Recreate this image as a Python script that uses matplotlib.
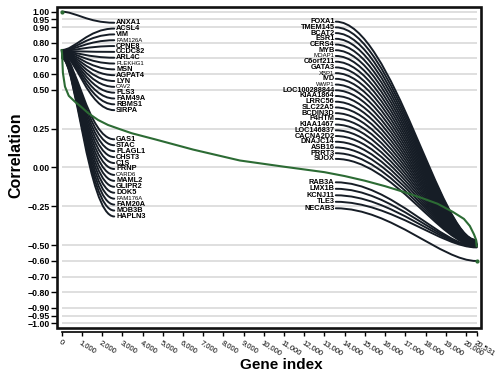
import numpy as np
import matplotlib
matplotlib.use('Agg')
import matplotlib.pyplot as plt
from matplotlib.path import Path
from matplotlib.patches import PathPatch, Rectangle

plt.rcParams['font.family'] = ['Liberation Sans', 'DejaVu Sans']

N_GENES = 20531

# sorted correlation curve
curve_idx = [1, 4, 8, 12, 17, 22, 29, 45, 60, 163, 350, 657, 1000, 1300, 1800, 2290,
             2900, 3460, 4610, 6500, 8810, 11000, 13000, 14000, 15000, 16000, 17000,
             17800, 18600, 19350, 19900, 20190, 20400, 20502, 20515, 20530]
curve_val = [0.754, 0.750, 0.744, 0.738, 0.730, 0.720, 0.700, 0.650, 0.607, 0.519, 0.460,
             0.422, 0.385, 0.350, 0.305, 0.273, 0.245, 0.220, 0.181, 0.115, 0.045,
             0.005, -0.030, -0.055, -0.085, -0.120, -0.160, -0.195, -0.233, -0.285,
             -0.330, -0.375, -0.430, -0.465, -0.490, -0.505]

first_val = 1.00    # index 0
last_val = -0.60    # last index

# genes with highest correlation (left labels)
left_top = ['ANXA1', 'ACSL4', 'VIM', 'FAM126A', 'CPNE8', 'CCDC82', 'ARL4C', 'PLEKHG1',
            'MSN', 'AGPAT4', 'LYN', 'CAV2', 'PLS3', 'FAM49A', 'RBMS1', 'SIRPA']
left_bottom = ['GAS1', 'STAC', 'PLAGL1', 'CHST3', 'C1S', 'PRNP', 'CARD6', 'MAML2',
               'GLIPR2', 'DOK5', 'FAM176A', 'FAM20A', 'MOB3B', 'HAPLN3']
left_idx = list(range(0, 30))
left_val = [1.000, 0.754, 0.752, 0.751, 0.749, 0.747, 0.745, 0.744, 0.742, 0.740, 0.738,
            0.737, 0.735, 0.733, 0.731, 0.729, 0.727, 0.725, 0.723, 0.721, 0.719, 0.717,
            0.715, 0.713, 0.711, 0.709, 0.707, 0.705, 0.703, 0.700]

# genes with lowest correlation (right labels)
right_top = ['FOXA1', 'TMEM145', 'BCAT2', 'ESR1', 'CERS4', 'MYB', 'MOAP1', 'C6orf211',
             'GATA3', 'XBP1', 'IVD', 'WWP1', 'LOC100288844', 'KIAA1864', 'LRRC56',
             'SLC22A5', 'BCDIN3D', 'P4HTM', 'KIAA1467', 'LOC146837', 'CACNA2D2',
             'DNAJC14', 'ASB16', 'PRRT3', 'SUOX']
right_bottom = ['RAB3A', 'LMX1B', 'KCNJ11', 'TLE3', 'NECAB3']
right_idx = list(range(N_GENES - 29, N_GENES + 1))
right_val = [-0.465, -0.467, -0.469, -0.471, -0.473, -0.475, -0.477, -0.479, -0.481,
             -0.483, -0.485, -0.487, -0.489, -0.490, -0.491, -0.492, -0.493, -0.494,
             -0.495, -0.496, -0.497, -0.498, -0.499, -0.501, -0.503, -0.506, -0.508,
             -0.510, -0.513, -0.600]

small_labels = {'FAM126A', 'PLEKHG1', 'CAV2', 'CARD6', 'FAM176A', 'MOAP1', 'XBP1', 'WWP1'}

yticks = [1.00, 0.95, 0.90, 0.80, 0.70, 0.60, 0.50, 0.25, 0.00, -0.25, -0.50, -0.60,
          -0.70, -0.80, -0.90, -0.95, -1.00]
xticks = list(range(0, 20001, 1000)) + [N_GENES]
xticklabels = [f'{v:,}' for v in xticks]

# ---- layout ----
fig = plt.figure(figsize=(5.0, 3.76), dpi=100)
ax = fig.add_axes([0.113, 0.1277, 0.849, 0.8545])
ax.set_xlim(-257, 20744)
ax.set_ylim(-1.03, 1.032)

ax.hlines(yticks, 0, N_GENES, color='#d9d9d9', lw=1.2, zorder=0)

line_col = '#161d26'


def connector(x0, y0, x3, y3, a=0.25, b=0.5):
    # cubic curve: leaves the data point horizontally, arrives at the label horizontally
    verts = [(x0, y0), (x0 + a * (x3 - x0), y0), (x0 + b * (x3 - x0), y3), (x3, y3)]
    codes = [Path.MOVETO, Path.CURVE4, Path.CURVE4, Path.CURVE4]
    return PathPatch(Path(verts, codes), facecolor='none', edgecolor=line_col,
                     lw=1.4, zorder=2, capstyle='round')


def place(names, y_start, step):
    return [y_start - i * step for i in range(len(names))]


left_label_x = 2690
left_curve_end = 2600
right_label_x = 13500
right_curve_start = 13560

ly = place(left_top, 0.929, 0.0374) + place(left_bottom, 0.181, 0.0381)
ry = place(right_top, 0.936, 0.0367) + place(right_bottom, -0.095, 0.0417)

for name, gi, gv, y in zip(left_top + left_bottom, left_idx, left_val, ly):
    ax.add_patch(connector(gi, gv, left_curve_end, y))
    small = name in small_labels
    ax.text(left_label_x, y, name, ha='left', va='center',
            fontsize=4.3 if small else 5.3, fontweight='normal' if small else 'bold',
            zorder=4)

for name, gi, gv, y in zip(right_top + right_bottom, right_idx, right_val, ry):
    ax.add_patch(connector(gi, gv, right_curve_start, y, a=0.25, b=0.6))
    small = name in small_labels
    ax.text(right_label_x, y, name, ha='right', va='center',
            fontsize=4.3 if small else 5.3, fontweight='normal' if small else 'bold',
            zorder=4)

green = '#2c6b34'
ax.plot(curve_idx, curve_val, color=green, lw=1.5, zorder=3)
ax.plot([0], [first_val], 'o', color=green, ms=2, zorder=3)
ax.plot([N_GENES], [last_val], 'o', color=green, ms=2, zorder=3)

# frame
ax.add_patch(Rectangle((0, 0), 1, 1, transform=ax.transAxes, fill=False,
                       lw=1.9, edgecolor='#111111', clip_on=False, zorder=5))
for s in ['top', 'right', 'left']:
    ax.spines[s].set_visible(False)
ax.spines['bottom'].set_position(('outward', 3))
ax.spines['bottom'].set_bounds(0, N_GENES)
ax.spines['bottom'].set_linewidth(1.2)

ax.set_yticks(yticks)
ax.set_yticklabels([f'{v:.2f}'.replace('-', '\u2212') for v in yticks],
                   fontsize=6.3, fontweight='bold')
ax.tick_params(axis='y', direction='out', length=4, width=1, pad=1)

ax.set_xticks(xticks)
ax.set_xticklabels(xticklabels, fontsize=5.5)
ax.tick_params(axis='x', direction='out', length=3, width=1, pad=2)
plt.setp(ax.get_xticklabels(), rotation=-32, ha='left', va='top', rotation_mode='anchor')

fig.text(281 / 500, 1 - 365 / 376, 'Gene index', ha='center', va='center',
         fontsize=11, fontweight='bold')
fig.text(16 / 500, 1 - 155 / 376, 'Correlation', ha='center', va='center',
         rotation=90, fontsize=11.5, fontweight='bold')

fig.savefig('out.png', dpi=100)
